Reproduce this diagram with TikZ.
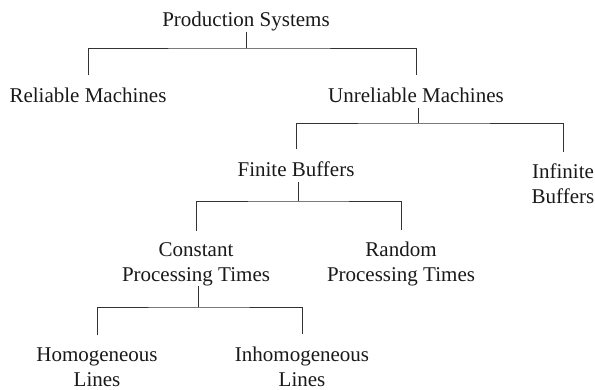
\documentclass[tikz,border=0pt]{standalone}
\usepackage{fontspec}
\setmainfont{Liberation Serif}

\begin{document}
\begin{tikzpicture}[x=1pt, y=-1pt,
    label/.style={inner sep=0pt, outer sep=0pt, align=center, anchor=base,
                  font=\fontsize{21}{24.5}\selectfont, text=black!90},
    item/.style={label, text height=15pt, text depth=5pt},
    stem/.style={line width=0.9pt, draw=black!80},
    branch/.style={stem, shorten <=12.5pt, shorten >=12.5pt}]

  \useasboundingbox (0,0) rectangle (595,390);

  % root and first split
  \node[item] (PS) at (246,27) {Production Systems};
  \node[item] (RM) at (88,103) {Reliable Machines};
  \node[item] (UM) at (416,103) {Unreliable Machines};

  % buffers (two-line nodes sit on their last line)
  \node[item] (FB) at (296,177) {Finite Buffers};
  \node[label] (IB) at (563,203.5) {Infinite\\Buffers};

  % processing times
  \node[label] (CP) at (196,281.5) {Constant\\Processing Times};
  \node[label] (RP) at (401,281.5) {Random\\Processing Times};

  % lines
  \node[label] (HL) at (97,386) {Homogeneous\\Lines};
  \node[label] (IL) at (302,386) {Inhomogeneous\\Lines};

  \coordinate (PSbar) at (246,48);
  \coordinate (UMbar) at (418,123);
  \coordinate (FBbar) at (298,201);
  \coordinate (CPbar) at (198,307);

  \draw[stem] (PS.south) -- (PSbar);
  \draw[branch] (RM.north) |- (PSbar) -| (UM.north);

  \draw[stem] (UM.south -| UMbar) -- (UMbar);
  \draw[branch] (FB.north) |- (UMbar) -| (IB.north);

  \draw[stem] (FB.south -| FBbar) -- (FBbar);
  \draw[branch] (CP.north) |- (FBbar) -| (RP.north);

  \draw[stem] (CP.south -| CPbar) -- (CPbar);
  \draw[branch] (HL.north) |- (CPbar) -| (IL.north);

\end{tikzpicture}
\end{document}
